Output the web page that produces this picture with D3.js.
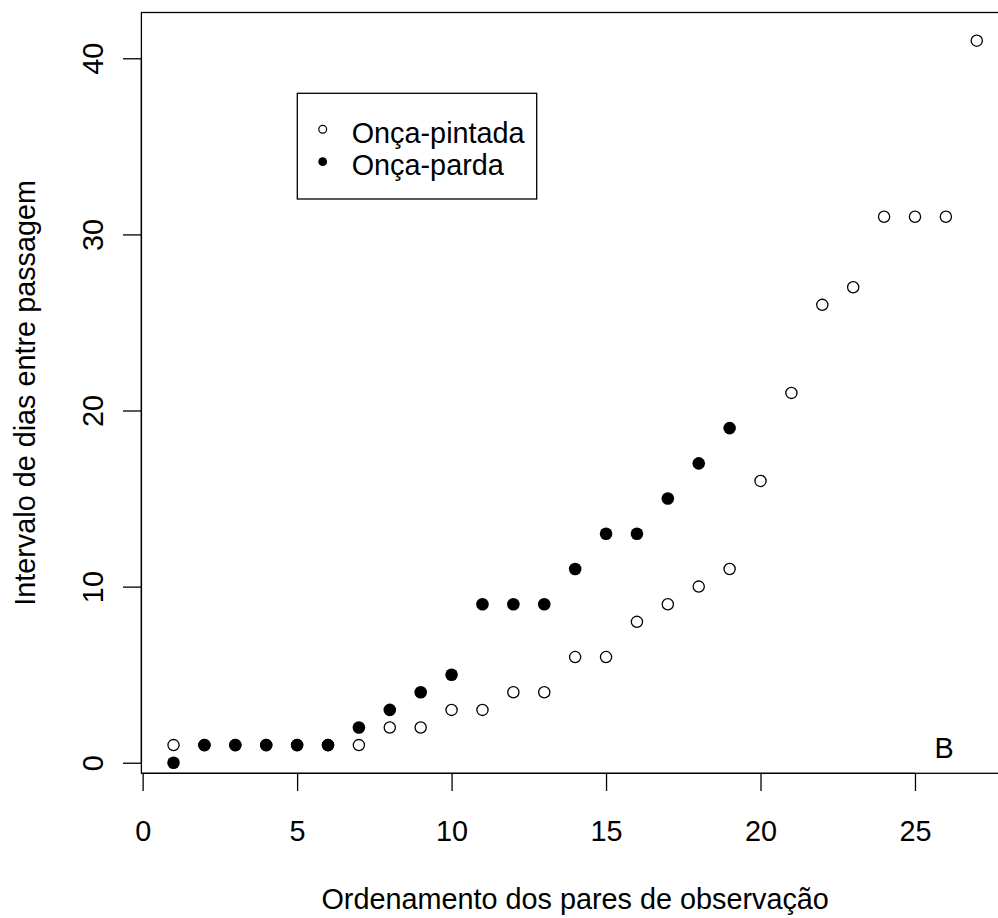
<!DOCTYPE html>
<html>
<head>
<meta charset="utf-8">
<script src="https://cdn.jsdelivr.net/npm/d3@7"></script>
<style>
    body { margin: 0; background: white; }
    svg { display: block; font-family: "Liberation Sans", Arial, sans-serif; }
</style>
</head>
<body>
<svg width="998" height="918"></svg>
<script>
// data
const pintadaX = [1, 2, 3, 4, 5, 6, 7, 8, 9, 10, 11, 12, 13, 14, 15, 16, 17, 18, 19, 20, 21, 22, 23, 24, 25, 26, 27]
const pintadaY = [1, 1, 1, 1, 1, 1, 1, 2, 2, 3, 3, 4, 4, 6, 6, 8, 9, 10, 11, 16, 21, 26, 27, 31, 31, 31, 41]

const pardaX = [1, 2, 3, 4, 5, 6, 7, 8, 9, 10, 11, 12, 13, 14, 15, 16, 17, 18, 19]
const pardaY = [0, 1, 1, 1, 1, 1, 2, 3, 4, 5, 9, 9, 9, 11, 13, 13, 15, 17, 19]

const xTicks = [0, 5, 10, 15, 20, 25]
const yTicks = [0, 10, 20, 30, 40]

const legendLabels = ["Onça-pintada", "Onça-parda"]

const pintada = pintadaX.map((x, i) => ({x: x, y: pintadaY[i]}))
const parda = pardaX.map((x, i) => ({x: x, y: pardaY[i]}))

const svg = d3.select("svg")
const fontSize = 28.8

// R style: xlim c(1,27), ylim c(1,41), extended by 4%
const scaleX = d3.scaleLinear()
    .domain([-0.04, 28.04])
    .range([141.4, 1008.9])
const scaleY = d3.scaleLinear()
    .domain([-0.6, 42.6])
    .range([773.3, 12.5])

// axes
const axisX = d3.axisBottom(scaleX)
    .tickValues(xTicks)
    .tickSizeInner(17.7)
    .tickSizeOuter(0)
    .tickPadding(29.4)

const axisXGroup = svg
    .append("g")
    .attr("class", "x-axis")
    .attr("transform", "translate(0, 773.3)")
    .call(axisX)

axisXGroup.select(".domain")
    .attr("d", `M${scaleX(0)},0H${scaleX(25)}`)

const axisY = d3.axisLeft(scaleY)
    .tickValues(yTicks)
    .tickSizeInner(18.4)
    .tickSizeOuter(0)

const axisYGroup = svg
    .append("g")
    .attr("class", "y-axis")
    .attr("transform", "translate(141.4, 0)")
    .call(axisY)

axisYGroup.select(".domain")
    .attr("d", `M0,${scaleY(0)}V${scaleY(40)}`)

// rotate the y labels like R does (las = 0)
axisYGroup.selectAll(".tick text")
    .attr("transform", "rotate(-90)")
    .attr("x", 0)
    .attr("y", -38.4)
    .attr("dy", 0)
    .attr("text-anchor", "middle")

svg.selectAll(".x-axis, .y-axis")
    .attr("font-family", null)
    .attr("font-size", fontSize)
svg.selectAll(".tick text").attr("fill", "#000")
svg.selectAll(".tick line, .domain")
    .attr("stroke", "#000")
    .attr("stroke-width", 1.3)

// plot box
svg.append("rect")
    .attr("x", scaleX.range()[0])
    .attr("y", scaleY.range()[1])
    .attr("width", scaleX.range()[1] - scaleX.range()[0])
    .attr("height", scaleY.range()[0] - scaleY.range()[1])
    .attr("fill", "none")
    .attr("stroke", "#000")
    .attr("stroke-width", 1.3)

// axis titles
svg.append("text")
    .attr("x", (scaleX.range()[0] + scaleX.range()[1]) / 2)
    .attr("y", 909)
    .attr("text-anchor", "middle")
    .attr("font-size", fontSize)
    .text("Ordenamento dos pares de observação")

svg.append("text")
    .attr("transform", `translate(35, ${(scaleY.range()[0] + scaleY.range()[1]) / 2}) rotate(-90)`)
    .attr("text-anchor", "middle")
    .attr("font-size", fontSize)
    .text("Intervalo de dias entre passagem")

// points: open circles first, then filled
svg.selectAll("circle.pintada")
    .data(pintada)
    .enter()
    .append("circle")
    .attr("class", "pintada")
    .attr("cx", (d, i) => {return scaleX(d.x)})
    .attr("cy", (d, i) => {return scaleY(d.y)})
    .attr("r", 5.6)
    .attr("fill", "none")
    .attr("stroke", "#000")
    .attr("stroke-width", 1.3)

svg.selectAll("circle.parda")
    .data(parda)
    .enter()
    .append("circle")
    .attr("class", "parda")
    .attr("cx", (d, i) => {return scaleX(d.x)})
    .attr("cy", (d, i) => {return scaleY(d.y)})
    .attr("r", 6.3)
    .attr("fill", "#000")

// panel letter
svg.append("text")
    .attr("x", scaleX(25.94))
    .attr("y", scaleY(0.83))
    .attr("dy", "0.36em")
    .attr("text-anchor", "middle")
    .attr("font-size", fontSize)
    .text("B")

// legend
const legend = svg.append("g")
    .attr("class", "legend")

legend.append("rect")
    .attr("x", 297.3)
    .attr("y", 93.3)
    .attr("width", 239.4)
    .attr("height", 105.7)
    .attr("fill", "white")
    .attr("stroke", "#000")
    .attr("stroke-width", 1.3)

const rows = legend.selectAll("g.row")
    .data(legendLabels)
    .enter()
    .append("g")
    .attr("class", "row")
    .attr("transform", (d, i) => {return `translate(322.7, ${129.3 + i * 32.4})`})

rows.append("circle")
    .attr("r", (d, i) => {return i == 0 ? 3.9 : 4.4})
    .attr("fill", (d, i) => {return i == 0 ? "none" : "#000"})
    .attr("stroke", (d, i) => {return i == 0 ? "#000" : "none"})
    .attr("stroke-width", 1.2)

rows.append("text")
    .attr("x", 29)
    .attr("y", 13.5)
    .attr("font-size", fontSize)
    .text((d, i) => {return d})
</script>
</body>
</html>
